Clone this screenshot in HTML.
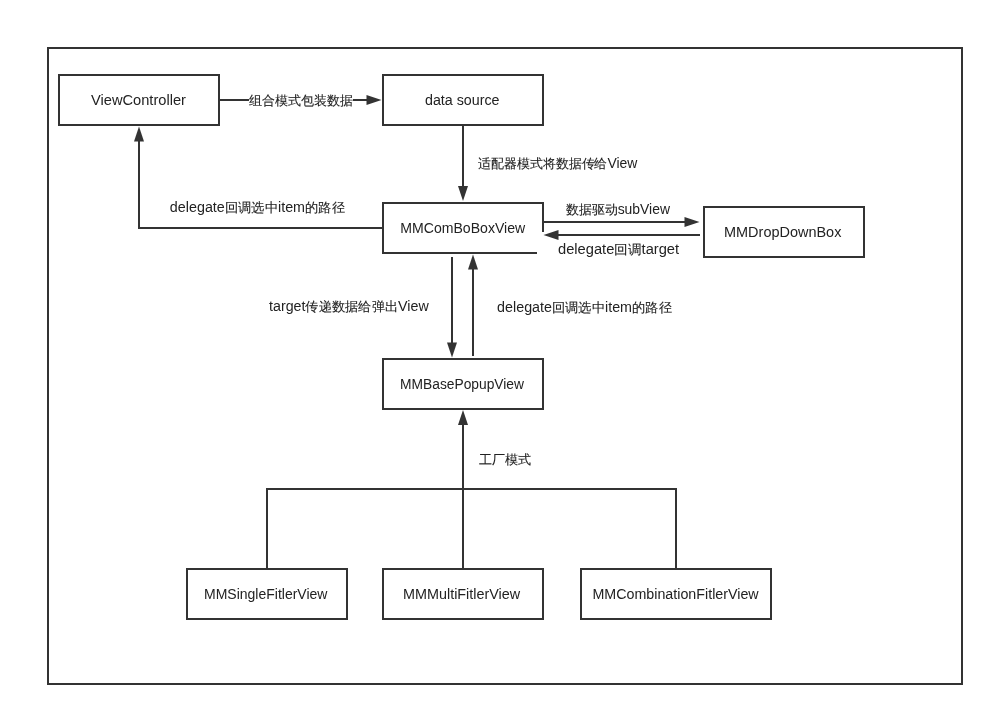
<!DOCTYPE html>
<html><head><meta charset="utf-8">
<style>
html,body{margin:0;padding:0;background:#fff;}
body{width:994px;height:716px;overflow:hidden;}
svg{display:block;will-change:transform;}
text{font-family:"Liberation Sans",sans-serif;font-size:13px;fill:#222;}
</style></head><body>
<svg width="994" height="716" viewBox="0 0 994 716">
<rect x="0" y="0" width="994" height="716" fill="#fff"/>
<g fill="none" stroke="#333" stroke-width="2">
<rect x="48" y="48" width="914" height="636"/>
<rect x="59" y="75" width="160" height="50"/>
<rect x="383" y="75" width="160" height="50"/>
<rect x="383" y="203" width="160" height="50"/>
<rect x="704" y="207" width="160" height="50"/>
<rect x="383" y="359" width="160" height="50"/>
<rect x="187" y="569" width="160" height="50"/>
<rect x="383" y="569" width="160" height="50"/>
<rect x="581" y="569" width="190" height="50"/>
</g>
<rect x="537" y="232" width="150" height="30" fill="#fff"/>
<g fill="none" stroke="#333" stroke-width="2">
<path d="M219 100H372"/>
<path d="M463 125V192"/>
<path d="M383 228H139V136"/>
<path d="M543 222H690"/>
<path d="M700 235H553"/>
<path d="M452 257V348"/>
<path d="M473 356V264"/>
<path d="M463 569V420"/>
<path d="M267 569V489H676V569"/>
</g>
<g fill="#333" stroke="none"><path d="M381.5 100L366.5 95V105Z"/><path d="M463 201L458 186H468Z"/><path d="M139 126.5L134 141.5H144Z"/><path d="M699.5 222L684.5 217V227Z"/><path d="M543.5 235L558.5 230V240Z"/><path d="M452 357.5L447 342.5H457Z"/><path d="M473 254.5L468 269.5H478Z"/><path d="M463 410L458 425H468Z"/></g>
<rect x="249" y="92" width="104" height="17" fill="#fff"/>

<text x="91.00" y="105.20" textLength="94.98" lengthAdjust="spacingAndGlyphs"><tspan style="font-size:14px">ViewController</tspan></text>
<text x="249.00" y="105.00" textLength="104.00" lengthAdjust="spacingAndGlyphs"><tspan style="font-size:13px;stroke:#222;stroke-width:0.1px">组合模式包装数据</tspan></text>
<text x="425.00" y="105.20" textLength="74.57" lengthAdjust="spacingAndGlyphs"><tspan style="font-size:14px">data source</tspan></text>
<text x="478.00" y="168.30" textLength="159.39" lengthAdjust="spacingAndGlyphs"><tspan style="font-size:13px;stroke:#222;stroke-width:0.1px">适配器模式将数据传给</tspan><tspan style="font-size:14px">View</tspan></text>
<text x="169.86" y="212.00" textLength="175.09" lengthAdjust="spacingAndGlyphs"><tspan style="font-size:14px">delegate</tspan><tspan style="font-size:13px;stroke:#222;stroke-width:0.1px">回调选中</tspan><tspan style="font-size:14px">item</tspan><tspan style="font-size:13px;stroke:#222;stroke-width:0.1px">的路径</tspan></text>
<text x="400.30" y="233.42" textLength="124.93" lengthAdjust="spacingAndGlyphs"><tspan style="font-size:14px">MMComBoBoxView</tspan></text>
<text x="566.00" y="214.00" textLength="103.97" lengthAdjust="spacingAndGlyphs"><tspan style="font-size:13px;stroke:#222;stroke-width:0.1px">数据驱动</tspan><tspan style="font-size:14px">subView</tspan></text>
<text x="558.00" y="254.44" textLength="121.13" lengthAdjust="spacingAndGlyphs"><tspan style="font-size:14px">delegate</tspan><tspan style="font-size:13px;stroke:#222;stroke-width:0.1px">回调</tspan><tspan style="font-size:14px">target</tspan></text>
<text x="724.02" y="236.58" textLength="117.37" lengthAdjust="spacingAndGlyphs"><tspan style="font-size:14px">MMDropDownBox</tspan></text>
<text x="269.00" y="311.30" textLength="159.71" lengthAdjust="spacingAndGlyphs"><tspan style="font-size:14px">target</tspan><tspan style="font-size:13px;stroke:#222;stroke-width:0.1px">传递数据给弹出</tspan><tspan style="font-size:14px">View</tspan></text>
<text x="497.14" y="311.58" textLength="174.67" lengthAdjust="spacingAndGlyphs"><tspan style="font-size:14px">delegate</tspan><tspan style="font-size:13px;stroke:#222;stroke-width:0.1px">回调选中</tspan><tspan style="font-size:14px">item</tspan><tspan style="font-size:13px;stroke:#222;stroke-width:0.1px">的路径</tspan></text>
<text x="400.02" y="389.42" textLength="123.99" lengthAdjust="spacingAndGlyphs"><tspan style="font-size:14px">MMBasePopupView</tspan></text>
<text x="479.00" y="463.58" textLength="52.28" lengthAdjust="spacingAndGlyphs"><tspan style="font-size:13px;stroke:#222;stroke-width:0.1px">工厂模式</tspan></text>
<text x="204.02" y="599.28" textLength="123.45" lengthAdjust="spacingAndGlyphs"><tspan style="font-size:14px">MMSingleFitlerView</tspan></text>
<text x="403.02" y="599.28" textLength="117.17" lengthAdjust="spacingAndGlyphs"><tspan style="font-size:14px">MMMultiFitlerView</tspan></text>
<text x="592.44" y="599.42" textLength="166.22" lengthAdjust="spacingAndGlyphs"><tspan style="font-size:14px">MMCombinationFitlerView</tspan></text>
</svg>
</body></html>
